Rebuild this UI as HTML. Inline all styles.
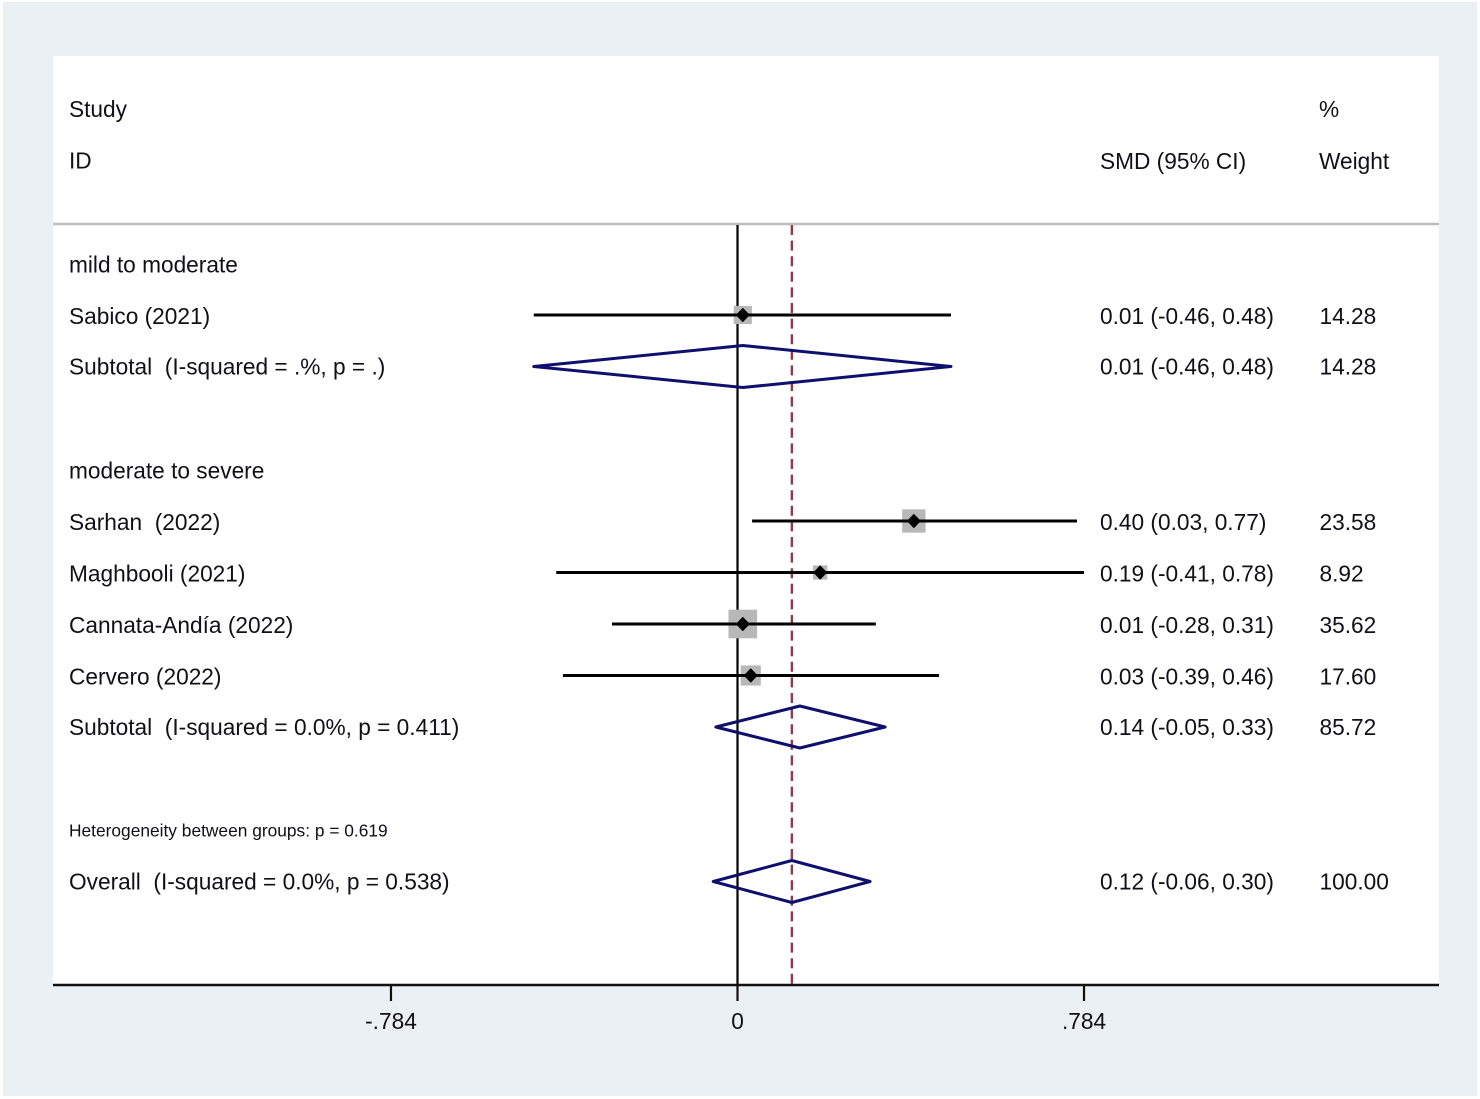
<!DOCTYPE html>
<html lang="en">
<head>
<meta charset="utf-8">
<title>Forest plot</title>
<style>
html,body{margin:0;padding:0;background:#fff;width:1480px;height:1099px;overflow:hidden}
svg{display:block;filter:blur(0.35px)}
text{font-family:"Liberation Sans",sans-serif;font-size:22.68px;fill:#101018;white-space:pre}
text.small{font-size:17.35px}
</style>
</head>
<body>
<svg id="chart" width="1480" height="1099" viewBox="0 0 1480 1099" xmlns="http://www.w3.org/2000/svg">
  <rect x="3" y="2" width="1474" height="1094" fill="#eaf0f3"/>
  <rect x="53" y="56" width="1386" height="929" fill="#ffffff"/>
  <line x1="53" y1="224" x2="1439" y2="224" stroke="#bdbdbd" stroke-width="2.4"/>
  <text x="1100" y="169">SMD (95% CI)</text>
  <text x="1319" y="117">%</text>
  <text x="1319" y="169">Weight</text>
  <g id="layer"></g>
</svg>
<script>
const rowLabels = ['Study', 'ID', '', 'mild to moderate', 'Sabico (2021)', 'Subtotal  (I-squared = .%, p = .)', '', 'moderate to severe', 'Sarhan  (2022)', 'Maghbooli (2021)', 'Cannata-Andía (2022)', 'Cervero (2022)', 'Subtotal  (I-squared = 0.0%, p = 0.411)', '', 'Heterogeneity between groups: p = 0.619', 'Overall  (I-squared = 0.0%, p = 0.538)'];
const rowKinds = ['head', 'head', 'gap', 'group', 'study', 'pool', 'gap', 'group', 'study', 'study', 'study', 'study', 'pool', 'gap', 'note', 'pool'];
const effectValues = [null, null, null, null, 0.012, 0.012, null, null, 0.399, 0.187, 0.012, 0.03, 0.141, null, null, 0.123];
const lowerValues = [null, null, null, null, -0.461, -0.461, null, null, 0.033, -0.41, -0.284, -0.395, -0.049, null, null, -0.055];
const upperValues = [null, null, null, null, 0.483, 0.483, null, null, 0.768, 0.784, 0.313, 0.456, 0.334, null, null, 0.3];
const weightValues = [null, null, null, null, 14.28, 14.28, null, null, 23.58, 8.92, 35.62, 17.6, 85.72, null, null, 100];
const ciLabels = ['', '', '', '', '0.01 (-0.46, 0.48)', '0.01 (-0.46, 0.48)', '', '', '0.40 (0.03, 0.77)', '0.19 (-0.41, 0.78)', '0.01 (-0.28, 0.31)', '0.03 (-0.39, 0.46)', '0.14 (-0.05, 0.33)', '', '', '0.12 (-0.06, 0.30)'];
const weightLabels = ['', '', '', '', '14.28', '14.28', '', '', '23.58', '8.92', '35.62', '17.60', '85.72', '', '', '100.00'];
const tickValues = [-0.784, 0, 0.784];
const tickLabels = ['-.784', '0', '.784'];
const overallEffect = 0.123;

const layer = document.getElementById('layer');
const NS = 'http://www.w3.org/2000/svg';
function xScale(v) { return 737.5 + v * 442; }
function rowCenter(i) { return 109.5 + i * 51.5; }
function make(tag, attrs, text) {
  const el = document.createElementNS(NS, tag);
  for (const k in attrs) el.setAttribute(k, attrs[k]);
  if (text !== undefined) el.textContent = text;
  layer.appendChild(el);
  return el;
}
function slug(s) { return s.toLowerCase().replace(/[^a-z0-9]+/g, '-').replace(/^-|-$/g, ''); }

const plotTop = 225, axisY = 985, tickEnd = 1001;

const zeroLine = make('line', {x1: xScale(0), y1: plotTop, x2: xScale(0), y2: axisY, stroke: '#000', 'stroke-width': 2.2});



const overallLine = make('line', {x1: xScale(overallEffect), y1: plotTop, x2: xScale(overallEffect), y2: axisY, stroke: '#8e3a4c', 'stroke-width': 2.4, 'stroke-dasharray': '10 5.6'});



rowLabels.forEach((label, i) => {
  const kind = rowKinds[i];
  if (kind === 'gap') return;
  const cy = rowCenter(i);
  const shift = (i >= 3 && i !== 5 && i !== 12 && i !== 15 && kind !== 'note') ? 8.3 : 7.6;
  const rowLabel = make('text', {x: 69, y: cy + (kind === 'note' ? 6 : shift), class: kind === 'note' ? 'small' : ''}, label);
  
  
  if (effectValues[i] === null) return;
  const my = cy - 0.5;
  if (kind === 'study') {
    const size = 4.8 * Math.sqrt(weightValues[i]);
    const box = make('rect', {x: xScale(effectValues[i]) - size / 2, y: my - size / 2, width: size, height: size, fill: '#b8b8b8'});
    
    
    const ci = make('line', {x1: xScale(lowerValues[i]), y1: my, x2: xScale(upperValues[i]), y2: my, stroke: '#000', 'stroke-width': 3});
    
    
    const px = xScale(effectValues[i]);
    const dot = make('polygon', {points: [[px - 7, my], [px, my - 7.2], [px + 7, my], [px, my + 7.2]].join(' '), fill: '#000'});
    
    
  } else {
    const px = xScale(effectValues[i]);
    const dia = make('polygon', {points: [[xScale(lowerValues[i]), my], [px, my - 21], [xScale(upperValues[i]), my], [px, my + 21]].join(' '), fill: 'none', stroke: '#0f0f6e', 'stroke-width': 3, 'stroke-linejoin': 'round'});
    
    
  }
  const ciText = make('text', {x: 1100, y: cy + shift}, ciLabels[i]);
  
  
  const wText = make('text', {x: 1319.5, y: cy + shift}, weightLabels[i]);
  
  
});

const axisLine = make('line', {x1: 53, y1: axisY, x2: 1439, y2: axisY, stroke: '#111', 'stroke-width': 2.6});



tickValues.forEach((v, i) => {
  const tick = make('line', {x1: xScale(v), y1: axisY, x2: xScale(v), y2: tickEnd, stroke: '#111', 'stroke-width': 2.2});
  
  
  const label = make('text', {x: xScale(v), y: 1029, 'text-anchor': 'middle'}, tickLabels[i]);
  
  
});
</script>
</body>
</html>
